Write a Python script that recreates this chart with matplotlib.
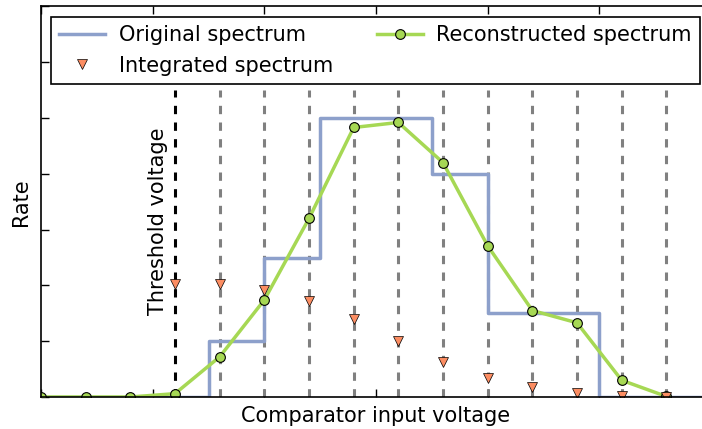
import numpy as np
import matplotlib
matplotlib.use("Agg")
import matplotlib.pyplot as plt

# original (true) spectrum as steps: edges and levels
orig_edges = [0.0, 1.5, 2.0, 2.5, 3.5, 4.0, 5.0, 6.0]
orig_levels = [0.0, 1.0, 2.5, 5.0, 4.0, 1.5, 0.0]

# comparator thresholds and reconstructed spectrum
recon_x = [0.0, 0.4, 0.8, 1.2, 1.6, 2.0, 2.4, 2.8, 3.2, 3.6, 4.0, 4.4, 4.8, 5.2, 5.6]
recon_y = [0.0, 0.0, 0.0, 0.06, 0.72, 1.74, 3.2, 4.83, 4.92, 4.2, 2.71, 1.55, 1.33, 0.30, 0.01]

# integrated spectrum (counts above each threshold)
integ_x = [1.2, 1.6, 2.0, 2.4, 2.8, 3.2, 3.6, 4.0, 4.4, 4.8, 5.2, 5.6]
integ_y = [2.03, 2.02, 1.92, 1.72, 1.40, 1.00, 0.63, 0.34, 0.18, 0.08, 0.02, 0.0]

threshold = 1.2
thresholds = [1.6, 2.0, 2.4, 2.8, 3.2, 3.6, 4.0, 4.4, 4.8, 5.2, 5.6]

plt.rcParams['lines.scale_dashes'] = False
plt.rcParams['font.family'] = 'DejaVu Sans'
FS = 15

fig = plt.figure(figsize=(7.02, 4.29), dpi=100)
ax = fig.add_axes([41 / 702, 32 / 429, 670 / 702, 390.6 / 429])

# vertical threshold lines
ax.vlines(threshold, 0, 5.5, colors='black', linestyles='--', linewidth=2.2)
for t in thresholds:
    ax.vlines(t, 0, 5.5, colors='0.5', linestyles='--', linewidth=2.2)
for c in ax.collections:
    c.set_dashes([(0, (6, 6))])

ax.text(threshold - 0.06, 3.15, 'Threshold voltage', rotation=90,
        ha='right', va='center', fontsize=FS)

# step plot of original spectrum
sx = np.repeat(orig_edges, 2)[1:-1]
sy = np.repeat(orig_levels, 2)
l1, = ax.plot(sx, sy, color='#8da0cb', linewidth=2.5, label='Original spectrum')

l3, = ax.plot(recon_x, recon_y, color='#a6d854', linewidth=2.5, marker='o',
              markersize=7, markeredgecolor='black', markeredgewidth=0.8,
              label='Reconstructed spectrum')
l2, = ax.plot(integ_x, integ_y, linestyle='none', marker='v', color='#fc8d62',
              markersize=7, markeredgecolor='black', markeredgewidth=0.5,
              label='Integrated spectrum')

ax.set_xlim(0, 6)
ax.set_ylim(0, 7)
ax.set_xticks(np.arange(0, 7, 1))
ax.set_yticks(np.arange(0, 8, 1))
ax.set_xticklabels([])
ax.set_yticklabels([])
ax.tick_params(direction='in', top=True, right=True, length=6, width=1)
for s in ax.spines.values():
    s.set_linewidth(1.2)

ax.set_xlabel('Comparator input voltage', fontsize=FS, labelpad=3)
ax.set_ylabel('Rate', fontsize=FS, labelpad=4)

leg = ax.legend([l1, l2, l3], ['Original spectrum', 'Integrated spectrum',
                               'Reconstructed spectrum'],
                loc='upper left', bbox_to_anchor=(10 / 670, 1 - 10.6 / 390.6),
                borderaxespad=0, ncol=2, fontsize=FS, numpoints=1,
                fancybox=False, framealpha=1, edgecolor='black',
                handlelength=2.2, handletextpad=0.65, columnspacing=2.1)
leg.get_frame().set_linewidth(1.2)

fig.savefig('out.png', dpi=100)
